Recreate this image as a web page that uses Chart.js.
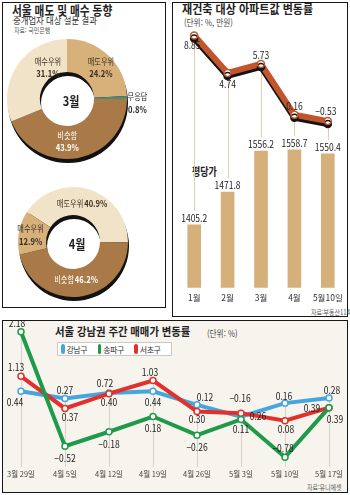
<!DOCTYPE html>
<html lang="ko">
<head>
<meta charset="utf-8">
<title>부동산 매매 동향</title>
<script src="https://cdn.jsdelivr.net/npm/chart.js@4.4.1/dist/chart.umd.min.js"></script>
<style>
  body { margin: 0; background: #fff; font-family: "Noto Sans CJK KR", sans-serif; }
  #page { position: relative; width: 350px; height: 495px; overflow: hidden; }
  .box { position: absolute; border: 1.5px solid #161616; box-sizing: border-box; }
  .txt { position: absolute; white-space: nowrap; line-height: 1; color: #222; transform-origin: 0 50%; }
  canvas { position: absolute; }
  #legend { position: absolute; left: 57px; top: 342px; width: 115px; height: 14px; border: 1px solid #c9c9c9;
            background: #fff; box-sizing: border-box; display: flex; align-items: center; padding-left: 3px;
            font-size: 8px; letter-spacing: -0.5px; color: #333; }
  #legend .lg { display: inline-flex; align-items: center; width: 38px; }
  #legend i { display: inline-block; width: 3.5px; height: 10px; border-radius: 2px; margin-right: 2px; }
</style>
</head>
<body>
<div id="page">
  <div class="box" style="left:2px;top:2px;width:164px;height:306px"></div>
  <div class="box" style="left:172px;top:2px;width:176px;height:315px"></div>
  <div class="box" style="left:2px;top:320px;width:346px;height:173px;background:#f7f4ee"></div>

  <div class="txt" style="left:12px;top:3px;font-size:13px;font-weight:700;transform:scaleX(.82)">서울 매도 및 매수 동향</div>
  <div class="txt" style="left:13px;top:16px;font-size:9.5px;color:#333;transform:scaleX(.88)">중개업자 대상 설문 결과</div>
  <div class="txt" style="left:14px;top:27px;font-size:7px;color:#555;transform:scaleX(.85)">자료: 국민은행</div>

  <div class="txt" style="left:182px;top:3px;font-size:12px;font-weight:700;transform:scaleX(.92)">재건축 대상 아파트값 변동률</div>
  <div class="txt" style="left:184px;top:18px;font-size:9px;color:#444;transform:scaleX(.85)">(단위: %, 만원)</div>
  <div class="txt" style="left:192px;top:166px;font-size:11px;font-weight:700;transform:scaleX(.82)">평당가</div>
  <div class="txt" style="left:311px;top:309px;font-size:7px;color:#555;transform:scaleX(.85)">자료:부동산114</div>

  <div class="txt" style="left:55px;top:326px;font-size:11.5px;font-weight:700;transform:scaleX(.9)">서울 강남권 주간 매매가 변동률</div>
  <div class="txt" style="left:207px;top:329px;font-size:9px;color:#444;transform:scaleX(.85)">(단위: %)</div>
  <div class="txt" style="left:307px;top:484px;font-size:7px;color:#555;transform:scaleX(.85)">자료:유니에셋</div>

  <canvas id="cMar" width="166" height="130" style="left:2px;top:35px"></canvas>
  <canvas id="cApr" width="166" height="125" style="left:2px;top:180px"></canvas>
  <canvas id="cRe" width="178" height="283" style="left:172px;top:25px"></canvas>
  <canvas id="cWk" width="346" height="164" style="left:2px;top:320px"></canvas>
  <div id="legend"></div>
</div>

<script>
// survey (%)
const marchLabels = ['매도우위', '무응답', '비슷함', '매수우위'];
const marchValues = [24.2, 0.8, 43.9, 31.1];
const aprilLabels = ['매도우위', '비슷함', '매수우위'];
const aprilValues = [40.9, 46.2, 12.9];
const donutMonths = ['3월', '4월'];

// rebuild apartments
const rebuildMonths = ['1월', '2월', '3월', '4월', '5월10일'];
const rebuildChange = [8.85, 4.74, 5.73, 0.16, -0.53];      // %
const rebuildPrice = [1405.2, 1471.8, 1556.2, 1558.7, 1550.4]; // 만원 per 평

// weekly change (%)
const weeks = ['3월 29일', '4월 5일', '4월 12일', '4월 19일', '4월 26일', '5월 3일', '5월 10일', '5월 17일'];
const districts = ['강남구', '송파구', '서초구'];
const gangnam = [0.44, 0.27, 0.40, 0.44, 0.12, -0.16, 0.16, 0.28];
const songpa = [2.18, -0.52, -0.18, 0.18, -0.26, 0.11, -0.78, 0.39];
const seocho = [1.13, 0.37, 0.72, 1.03, 0.30, 0.26, 0.08, 0.39];

const CREAM = '#f1e3c8', TAN = '#d8b07a', BROWN = '#a97a48', TEAL = '#4f8a78';
const weekColors = ['#45a6dc', '#1e9a4a', '#e2302c'];
const FONT = '"Noto Sans CJK KR", sans-serif';

Chart.defaults.font.family = FONT;
Chart.defaults.animation = false;
Chart.defaults.events = [];
Chart.defaults.plugins.legend.display = false;
Chart.defaults.plugins.tooltip.enabled = false;

function drawText(ctx, text, x, y, font, color, sx) {
    ctx.save();
    ctx.translate(x, y);
    ctx.scale(sx || 1, 1);
    ctx.font = font;
    ctx.fillStyle = color;
    ctx.textAlign = 'center';
    ctx.textBaseline = 'middle';
    ctx.fillText(text, 0, 0);
    ctx.restore();
}
const fmt = (v, d) => v.toFixed(d).replace('-', '−');

// doughnut with a dark 3D rim and labels inside the slices
function makeDonut(id, month, labels, values, colors, rotation, cutout, padding, slice) {
    const deco = {
        id: 'donutDeco',
        beforeDatasetsDraw(chart) {
            const a = chart.getDatasetMeta(0).data[0];
            const ctx = chart.ctx;
            ctx.save();
            ctx.fillStyle = '#121212';
            ctx.beginPath();
            ctx.arc(a.x + 1, a.y + 4, a.outerRadius, 0, Math.PI * 2);
            ctx.arc(a.x + 1, a.y + 4, a.innerRadius, 0, Math.PI * 2, true);
            ctx.fill();
            ctx.restore();
        },
        afterDatasetsDraw(chart) {
            const ctx = chart.ctx;
            const arcs = chart.getDatasetMeta(0).data;
            arcs.forEach((a, i) => {
                const mid = (a.startAngle + a.endAngle) / 2;
                const r = (a.innerRadius + a.outerRadius) / 2;
                const x = a.x + Math.cos(mid) * r + slice.nudge[i][0];
                const y = a.y + Math.sin(mid) * r + slice.nudge[i][1];
                const pct = values[i].toFixed(1) + '%';
                const col = slice.color[i];
                if (slice.twoLine[i]) {
                    drawText(ctx, labels[i], x, y - 6, '400 9px ' + FONT, col, 0.8);
                    drawText(ctx, pct, x, y + 6, '700 9.5px ' + FONT, col, 0.8);
                } else {
                    ctx.save();
                    ctx.font = '400 9px ' + FONT;
                    const w1 = ctx.measureText(labels[i] + ' ').width * 0.8;
                    ctx.font = '700 9.5px ' + FONT;
                    const w2 = ctx.measureText(pct).width * 0.8;
                    ctx.restore();
                    const left = x - (w1 + w2) / 2;
                    drawText(ctx, labels[i], left + w1 / 2, y, '400 9px ' + FONT, col, 0.8);
                    drawText(ctx, pct, left + w1 + w2 / 2, y, '700 9.5px ' + FONT, col, 0.8);
                }
            });
            const a0 = arcs[0];
            drawText(ctx, month, a0.x + 4, a0.y + 2, '700 13px ' + FONT, '#1e1e1e', 0.85);
        }
    };
    return new Chart(document.getElementById(id), {
        type: 'doughnut',
        data: { labels: labels, datasets: [{ data: values, backgroundColor: colors, borderWidth: 0 }] },
        options: { responsive: false, rotation: rotation, cutout: cutout, layout: { padding: padding } },
        plugins: [deco]
    });
}

makeDonut('cMar', donutMonths[0], marchLabels, marchValues, [TAN, TEAL, BROWN, CREAM], 0, '45%',
    { left: 5, right: 41, top: 4, bottom: 6 },
    { twoLine: [true, true, true, true],
      color: ['#3b2e22', '#2a2a2a', '#fff', '#3b2e22'],
      nudge: [[4, 0], [27, 5], [-8, 0], [17, -7]] });

makeDonut('cApr', donutMonths[1], aprilLabels, aprilValues, [CREAM, BROWN, TAN], -57, '49%',
    { left: 16, right: 40, top: 7, bottom: 8 },
    { twoLine: [false, false, true],
      color: ['#3b2e22', '#fff', '#3b2e22'],
      nudge: [[-3, 1], [-2, -3], [-2, 0]] });

// value labels next to points / bars, offsets per dataset
function makeLabels(cfgs) {
    return {
        id: 'valueLabels',
        afterDatasetsDraw(chart) {
            cfgs.forEach((cfg, di) => {
                if (!cfg) return;
                const meta = chart.getDatasetMeta(di);
                const data = chart.data.datasets[di].data;
                meta.data.forEach((el, i) => {
                    const off = cfg.offsets[i];
                    drawText(chart.ctx, fmt(data[i], cfg.digits), el.x + off[0], el.y + off[1], cfg.font, '#222', cfg.sx);
                });
            });
        }
    };
}

// black drop shadow under the orange line
const lineShadow = {
    id: 'lineShadow',
    beforeDatasetDraw(chart, args) {
        if (args.index !== 0) return;
        const ctx = chart.ctx;
        ctx.save();
        ctx.shadowColor = '#141414';
        ctx.shadowOffsetX = 0;
        ctx.shadowOffsetY = 3;
        ctx.shadowBlur = 0;
    },
    afterDatasetDraw(chart, args) {
        if (args.index === 0) chart.ctx.restore();
    }
};

const rebuildGuides = {
    id: 'rebuildGuides',
    beforeDatasetsDraw(chart) {
        const pts = chart.getDatasetMeta(0).data, bars = chart.getDatasetMeta(1).data;
        const ctx = chart.ctx;
        ctx.save();
        ctx.strokeStyle = '#e3cfaa';
        ctx.lineWidth = 1;
        pts.forEach((p, i) => {
            ctx.beginPath();
            ctx.moveTo(Math.round(p.x) + 0.5, p.y);
            ctx.lineTo(Math.round(p.x) + 0.5, bars[i].y - 14);
            ctx.stroke();
        });
        ctx.restore();
    }
};

new Chart(document.getElementById('cRe'), {
    type: 'bar',
    data: {
        labels: rebuildMonths,
        datasets: [{
            type: 'line',
            data: rebuildChange,
            yAxisID: 'yl',
            borderColor: '#c2552b',
            borderWidth: 6,
            borderJoinStyle: 'round',
            pointRadius: 3.5,
            pointBackgroundColor: '#fff',
            pointBorderColor: '#c2552b',
            pointBorderWidth: 1.5,
            order: 0
        }, {
            type: 'bar',
            data: rebuildPrice,
            yAxisID: 'yb',
            backgroundColor: '#d5b07a',
            barThickness: 13,
            order: 1
        }]
    },
    options: {
        responsive: false,
        layout: { padding: { top: 5, left: 0, right: 0, bottom: 0 } },
        scales: {
            x: { grid: { display: false, drawTicks: false }, border: { display: false },
                 ticks: { font: { size: 8.5 }, color: '#333', padding: 5, maxRotation: 0, minRotation: 0, autoSkip: false } },
            yl: { display: false, min: -18.78, max: 9.39 },
            yb: { display: false, min: 1276, max: 1803 }
        }
    },
    plugins: [rebuildGuides, lineShadow, makeLabels([
        { digits: 2, font: '400 10px ' + FONT, sx: 0.85, offsets: [[-2, 10], [0, 11], [0, -9], [0, -9], [-2, -10]] },
        { digits: 1, font: '400 10px ' + FONT, sx: 0.85, offsets: [[0, -7], [0, -7], [0, -7], [0, -7], [0, -7]] }
    ])]
});

// weekly chart
const weekGuides = {
    id: 'weekGuides',
    beforeDatasetsDraw(chart) {
        const ctx = chart.ctx;
        const metas = [0, 1, 2].map(d => chart.getDatasetMeta(d).data);
        ctx.save();
        ctx.strokeStyle = '#d6d3cd';
        ctx.lineWidth = 1;
        metas[0].forEach((el, i) => {
            const top = Math.min(...metas.map(m => m[i].y));
            ctx.beginPath();
            ctx.moveTo(Math.round(el.x) + 0.5, top);
            ctx.lineTo(Math.round(el.x) + 0.5, chart.chartArea.bottom + 2);
            ctx.stroke();
        });
        ctx.restore();
    }
};

const weekSeries = [gangnam, songpa, seocho];
const weekOrder = [2, 0, 1];
const lbl = '400 10px ' + FONT;

new Chart(document.getElementById('cWk'), {
    type: 'line',
    data: {
        labels: weeks,
        datasets: weekSeries.map((s, i) => ({
            label: districts[i],
            data: s,
            yAxisID: i === 0 ? 'y2' : 'y',
            borderColor: weekColors[i],
            borderWidth: 4,
            pointRadius: 3,
            pointBackgroundColor: '#fff',
            pointBorderColor: weekColors[i],
            pointBorderWidth: 1.5,
            order: weekOrder[i]
        }))
    },
    options: {
        responsive: false,
        layout: { padding: { left: 15, right: 19, top: 5, bottom: 0 } },
        scales: {
            x: { grid: { display: false, drawTicks: false }, border: { display: false },
                 ticks: { font: { size: 7.5 }, color: '#444', padding: 5, maxRotation: 0, autoSkip: false } },
            y: { display: false, min: -0.9647, max: 2.3294 },
            y2: { display: false, min: -1.301, max: 1.993 }
        }
    },
    plugins: [weekGuides, makeLabels([
        { digits: 2, font: lbl, sx: 0.85, offsets: [[-6, 11], [0, -8], [0, 9], [0, 11], [8, -8], [-1, -18], [-1, -7], [3, -8]] },
        { digits: 2, font: lbl, sx: 0.85, offsets: [[-4, -9], [0, 12], [0, 12], [0, 12], [0, 12], [0, 10], [-2, -9], [6, 12]] },
        { digits: 2, font: lbl, sx: 0.85, offsets: [[-5, -9], [5, 9], [-4, -10], [-3, -8], [0, 8], [17, 3], [1, 8], [-17, 1]] }
    ])]
});

const legend = document.getElementById('legend');
districts.forEach((name, i) => {
    legend.insertAdjacentHTML('beforeend',
        '<span class="lg"><i style="background:' + weekColors[i] + '"></i>' + name + '</span>');
});
</script>
</body>
</html>
